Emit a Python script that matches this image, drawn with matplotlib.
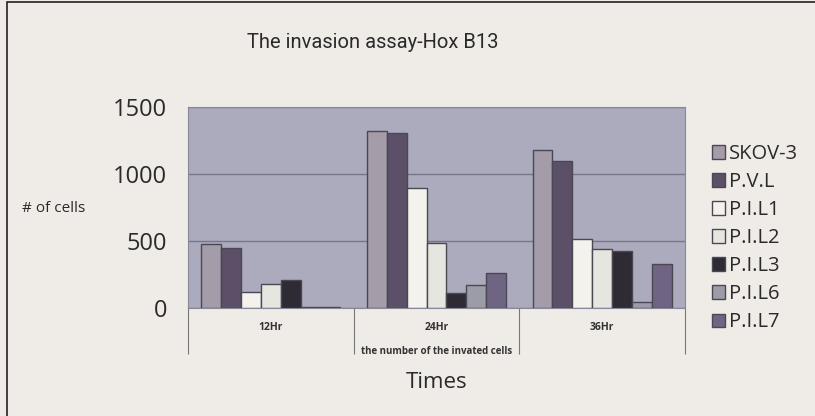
import numpy as np
import matplotlib
matplotlib.use("Agg")
import matplotlib.pyplot as plt
from matplotlib.patches import Rectangle
from matplotlib.transforms import blended_transform_factory

# -------------------------
# Data
# -------------------------

times = ["12Hr", "24Hr", "36Hr"]
series = ["SKOV-3", "P.V.L", "P.I.L1", "P.I.L2", "P.I.L3", "P.I.L6", "P.I.L7"]

skov3 = [478, 1320, 1180]
pvl = [450, 1308, 1097]
pil1 = [122, 898, 513]
pil2 = [179, 483, 438]
pil3 = [209, 114, 428]
pil6 = [5, 172, 47]
pil7 = [4, 259, 328]

values = [skov3, pvl, pil1, pil2, pil3, pil6, pil7]

colors = ["#a49ca8", "#5b5068", "#f4f2ec", "#e6e6e0", "#2f2b35", "#9c9ca6", "#6f6482"]

# -------------------------
# Style
# -------------------------

plt.rcParams["font.family"] = ["Open Sans", "DejaVu Sans"]
BG = "#efebe7"
PLOT_BG = "#acabbd"

fig = plt.figure(figsize=(8.15, 4.16), dpi=100, facecolor=BG)
ax = fig.add_axes([188 / 815, 1 - 308 / 416, 497 / 815, 201 / 416])
ax.set_facecolor(PLOT_BG)

# frame around the whole chart
fig.patches.append(Rectangle((7 / 815, -0.01), 1.0, 1 - 2 / 416 + 0.01,
                             transform=fig.transFigure, fill=False,
                             edgecolor="#222222", linewidth=1.2))

# -------------------------
# Bars
# -------------------------

n = len(series)
bw = 0.12
x = np.arange(len(times))
for i, (name, vals, c) in enumerate(zip(series, values, colors)):
    offs = (i - (n - 1) / 2) * bw
    ax.bar(x + offs, vals, width=bw, color=c, edgecolor="#4a4855",
           linewidth=1.0, label=name, zorder=3)

ax.set_xlim(-0.5, 2.5)
ax.set_ylim(0, 1500)
ax.set_yticks([0, 500, 1000, 1500])
ax.set_yticklabels(["0", "500", "1000", "1500"], fontsize=17, color="#2a2a2a")
ax.tick_params(axis="y", length=0, pad=15)
ax.yaxis.grid(True, color="#77758a", linewidth=1.0, zorder=0)

# category dividers as long ticks
ax.set_xticks([-0.5, 0.5, 1.5, 2.5])
ax.set_xticklabels([])
ax.tick_params(axis="x", length=33, color="#777777", width=0.8)

tr = blended_transform_factory(ax.transData, fig.transFigure)
for xi, t in zip(x, times):
    ax.text(xi, 1 - 327 / 416, t, transform=tr, ha="center", va="center",
            fontsize=7.5, color="#333333", fontweight="bold")

for s in ax.spines.values():
    s.set_color("#8a8898")
    s.set_linewidth(0.8)

fig.text(437 / 815, 1 - 351 / 416, "the number of the invated cells",
         ha="center", va="center", fontsize=7, color="#333333", fontweight="bold")
fig.text(437 / 815, 1 - 383 / 416, "Times", ha="center", va="center",
         fontsize=16, color="#2a2a2a")
fig.text(22 / 815, 1 - 209 / 416, "# of cells", ha="left", va="center",
         fontsize=11, color="#2a2a2a")
fig.text(373 / 815, 1 - 42 / 416, "The invasion assay-Hox B13",
         ha="center", va="center", fontsize=14.5, color="#2a2a2a",
         family=["Roboto", "DejaVu Sans"])

# -------------------------
# Legend
# -------------------------

leg = fig.legend(loc="upper left", bbox_to_anchor=(712 / 815, 1 - 144 / 416),
                 frameon=False, fontsize=14.5, handlelength=0.65,
                 handleheight=0.65, handletextpad=0.2, labelspacing=0.4,
                 borderaxespad=0, borderpad=0)
for t in leg.get_texts():
    t.set_color("#2a2a2a")

fig.savefig("out.png", dpi=100, facecolor=BG)
